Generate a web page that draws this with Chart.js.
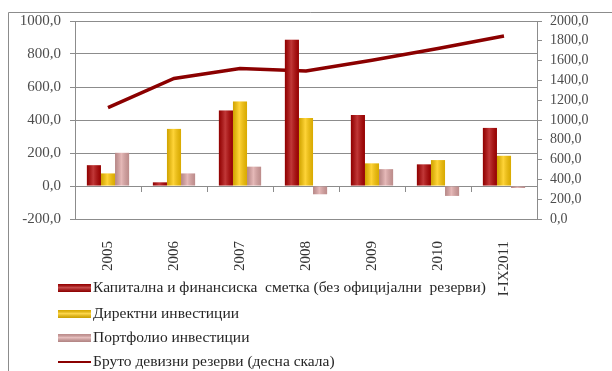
<!DOCTYPE html>
<html>
<head>
<meta charset="utf-8">
<script src="https://cdn.jsdelivr.net/npm/chart.js@4.4.1/dist/chart.umd.min.js"></script>
<style>
   html, body { margin: 0; padding: 0; background: #fff; }
   #wrap { width: 612px; height: 371px; position: relative; }
</style>
</head>
<body>
<div id="wrap"><canvas id="chartRezervi"></canvas></div>
<script>
// податоци (милиони евра)
const godini = ['2005', '2006', '2007', '2008', '2009', '2010', 'I-IX2011'];
const kapitalnaSmetka = [126, 22, 458, 886, 430, 131, 352];
const direktniInvesticii = [76, 346, 512, 412, 137, 157, 183];
const portfolioInvesticii = [201, 76, 117, -50, 102, -60, -12];
const brutoRezervi = [1124, 1420, 1521, 1495, 1604, 1722, 1849];

const leviTikovi = [-200, 0, 200, 400, 600, 800, 1000];
const desniTikovi = [0, 200, 400, 600, 800, 1000, 1200, 1400, 1600, 1800, 2000];

const iminja = [
   'Капитална и финансиска  сметка (без официјални  резерви)',
   'Директни инвестиции',
   'Портфолио инвестиции',
   'Бруто девизни резерви (десна скала)'
];

const fontFamily = "'Liberation Serif', 'DejaVu Serif', serif";
const gridColor = '#8c8c8c';
const tickColor = '#4d4d4d';

const formatBroj = (v) => v.toFixed(1).replace('.', ',');

// светол сјај по средината на столбовите
const sjajPlugin = {
   id: 'sjaj',
   afterDatasetsDraw(chart) {
      const ctx = chart.ctx;
      chart.data.datasets.forEach((ds, i) => {
         if (ds.type !== 'bar') return;
         chart.getDatasetMeta(i).data.forEach((bar) => {
            const w = bar.width;
            const left = bar.x - w / 2;
            const top = Math.min(bar.y, bar.base);
            const h = Math.abs(bar.base - bar.y);
            const g = ctx.createLinearGradient(left, 0, left + w, 0);
            g.addColorStop(0, 'rgba(0,0,0,0.18)');
            g.addColorStop(0.45, 'rgba(255,255,255,0.22)');
            g.addColorStop(1, 'rgba(0,0,0,0.15)');
            ctx.save();
            ctx.fillStyle = g;
            ctx.fillRect(left, top, w, h);
            ctx.restore();
         });
      });
   }
};

// легенда во една колона под графиконот
const legendaPlugin = {
   id: 'legenda',
   afterDraw(chart) {
      const ctx = chart.ctx;
      const redovi = [288, 314, 338, 362];
      ctx.save();
      ctx.font = '15.5px ' + fontFamily;
      ctx.textBaseline = 'middle';
      chart.data.datasets.forEach((ds, i) => {
         const y = redovi[i];
         if (ds.type === 'line') {
            ctx.strokeStyle = ds.borderColor;
            ctx.lineWidth = 2;
            ctx.beginPath();
            ctx.moveTo(58, y);
            ctx.lineTo(91, y);
            ctx.stroke();
         } else {
            ctx.fillStyle = ds.backgroundColor;
            ctx.fillRect(58, y - 4, 33, 8);
            const g = ctx.createLinearGradient(0, y - 4, 0, y + 4);
            g.addColorStop(0, 'rgba(0,0,0,0.15)');
            g.addColorStop(0.45, 'rgba(255,255,255,0.3)');
            g.addColorStop(1, 'rgba(0,0,0,0.2)');
            ctx.fillStyle = g;
            ctx.fillRect(58, y - 4, 33, 8);
         }
         ctx.fillStyle = '#262626';
         ctx.fillText(ds.label, 93, y);
      });
      ctx.restore();
   }
};

// рамка околу целата слика
const ramkaPlugin = {
   id: 'ramka',
   afterDraw(chart) {
      const ctx = chart.ctx;
      ctx.save();
      ctx.strokeStyle = '#8c8c8c';
      ctx.lineWidth = 1;
      ctx.beginPath();
      ctx.moveTo(8.5, chart.height);
      ctx.lineTo(8.5, 12.5);
      ctx.lineTo(chart.width, 12.5);
      ctx.stroke();
      ctx.restore();
   }
};

const barDefaults = { type: 'bar', yAxisID: 'y', categoryPercentage: 0.64, barPercentage: 1.0, order: 0 };

const ctx = document.getElementById('chartRezervi').getContext('2d');
const chartRezervi = new Chart(ctx, {
   data: {
      labels: godini,
      datasets: [{
         ...barDefaults,
         label: iminja[0],
         data: kapitalnaSmetka,
         backgroundColor: '#b00000'
      }, {
         ...barDefaults,
         label: iminja[1],
         data: direktniInvesticii,
         backgroundColor: '#ffc800'
      }, {
         ...barDefaults,
         label: iminja[2],
         data: portfolioInvesticii,
         backgroundColor: '#dea5a4'
      }, {
         type: 'line',
         label: iminja[3],
         data: brutoRezervi,
         yAxisID: 'y1',
         borderColor: '#8b0000',
         borderWidth: 3.5,
         pointRadius: 0,
         tension: 0,
         order: 1
      }]
   },
   options: {
      responsive: true,
      maintainAspectRatio: false,
      devicePixelRatio: 1,
      animation: false,
      layout: { padding: { left: 8, top: 21, right: 0, bottom: 0 } },
      scales: {
         x: {
            type: 'category',
            position: 'bottom',
            offset: true,
            grid: { display: false },
            border: { display: false },
            ticks: {
               minRotation: 90,
               maxRotation: 90,
               padding: 14,
               color: '#333333',
               font: { family: fontFamily, size: 15 }
            },
            afterFit: (s) => { s.height = 152; }
         },
         x0: {
            type: 'category',
            position: { y: 0 },
            offset: true,
            grid: { offset: true, drawOnChartArea: false, tickLength: 5, color: gridColor },
            border: { color: gridColor },
            ticks: { display: false }
         },
         y: {
            position: 'left',
            min: leviTikovi[0],
            max: leviTikovi[leviTikovi.length - 1],
            afterBuildTicks: (s) => { s.ticks = leviTikovi.map(v => ({ value: v })); },
            grid: { color: gridColor, tickLength: 5 },
            border: { color: gridColor },
            ticks: {
               padding: 9,
               color: tickColor,
               font: { family: fontFamily, size: 15 },
               callback: (v) => formatBroj(v)
            },
            afterFit: (s) => { s.width = 67; }
         },
         y1: {
            position: 'right',
            min: desniTikovi[0],
            max: desniTikovi[desniTikovi.length - 1],
            afterBuildTicks: (s) => { s.ticks = desniTikovi.map(v => ({ value: v })); },
            grid: { drawOnChartArea: false, color: gridColor, tickLength: 5 },
            border: { color: gridColor },
            ticks: {
               autoSkip: false,
               padding: 8,
               color: tickColor,
               font: { family: fontFamily, size: 14 },
               callback: (v) => formatBroj(v)
            },
            afterFit: (s) => { s.width = 75; }
         }
      },
      plugins: {
         legend: { display: false },
         tooltip: { enabled: false }
      }
   },
   plugins: [sjajPlugin, legendaPlugin, ramkaPlugin]
});
</script>
</body>
</html>
